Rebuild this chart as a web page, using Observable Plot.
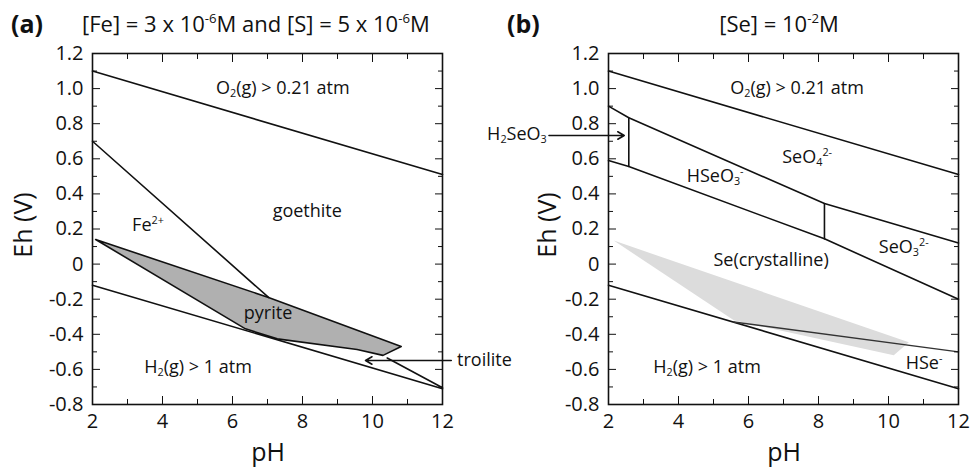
<!DOCTYPE html>
<html>
<head>
<meta charset="utf-8">
<script src="https://cdn.jsdelivr.net/npm/d3@7"></script>
<script src="https://cdn.jsdelivr.net/npm/@observablehq/plot@0.6"></script>
<style>
  html, body { margin: 0; padding: 0; background: #fff; }
  #wrap { position: relative; width: 971px; height: 468px; font-family: "Open Sans", sans-serif; color: #111; overflow: hidden; }
  .panel { position: absolute; top: 0; }
  .lbl { position: absolute; white-space: nowrap; font-size: 18px; line-height: 1.1; transform: translate(-50%, -50%); }
  .lbl.start { transform: translate(0, -50%); }
  .lbl.end { transform: translate(-100%, -50%); }
  sup { font-size: 0.6em; vertical-align: 0.65em; line-height: 0; }
  sub { font-size: 0.6em; vertical-align: -0.3em; line-height: 0; }
  .title { position: absolute; white-space: nowrap; line-height: 1.2; transform: translate(0, -50%); }
</style>
</head>
<body>
<div id="wrap"></div>
<script>
// ---------- data ----------
const pHRange = [2, 12];
const xMajorTicks = [2, 4, 6, 8, 10, 12];
const xMinorTicks = [3, 5, 7, 9, 11];
const yMajorTicks = [-0.8, -0.6, -0.4, -0.2, 0, 0.2, 0.4, 0.6, 0.8, 1.0, 1.2];
const yMinorTicks = [-0.7, -0.5, -0.3, -0.1, 0.1, 0.3, 0.5, 0.7, 0.9, 1.1];

// water stability limits (both panels)
const o2PH = [2, 12];
const o2Eh = [1.10, 0.51];
const h2PH = [2, 12];
const h2Eh = [-0.12, -0.71];

// panel (a): Fe-S system
const feGoethitePH = [2, 7.03];
const feGoethiteEh = [0.70, -0.19];
const pyritePH = [2.09, 7.03, 10.82, 10.30, 9.56, 7.28, 6.37];
const pyriteEh = [0.14, -0.19, -0.47, -0.52, -0.487, -0.426, -0.369];
const troilitePH = [10.42, 12];
const troiliteEh = [-0.535, -0.705];

// panel (b): Se system
const seUpperPH = [2, 2.58, 8.17, 12];
const seUpperEh = [0.90, 0.834, 0.345, 0.12];
const seLowerPH = [2, 2.58, 8.17, 12];
const seLowerEh = [0.59, 0.556, 0.144, -0.20];
const h2seo3BoundPH = [2.58, 2.58];
const h2seo3BoundEh = [0.556, 0.834];
const seo3BoundPH = [8.17, 8.17];
const seo3BoundEh = [0.144, 0.345];
const hsePH = [5.58, 12];
const hseEh = [-0.33, -0.50];
const pyriteOverlayPH = [2.15, 10.58, 10.15, 5.58];
const pyriteOverlayEh = [0.134, -0.445, -0.52, -0.32];

// annotations: [html, pH, Eh, anchor]
const labelsA = [
  ["O<sub>2</sub>(g) &gt; 0.21 atm", 7.45, 1.0, "middle"],
  ["goethite", 8.15, 0.30, "middle"],
  ["Fe<sup>2+</sup>", 3.6, 0.22, "middle"],
  ["pyrite", 7.03, -0.28, "middle"],
  ["H<sub>2</sub>(g) &gt; 1 atm", 5.03, -0.59, "middle"],
  ["troilite", 12.43, -0.55, "start"]
];
const labelsB = [
  ["O<sub>2</sub>(g) &gt; 0.21 atm", 7.4, 1.0, "middle"],
  ["SeO<sub>4</sub><sup>2-</sup>", 7.69, 0.61, "middle"],
  ["HSeO<sub>3</sub><sup>-</sup>", 5.06, 0.50, "middle"],
  ["H<sub>2</sub>SeO<sub>3</sub>", 0.25, 0.74, "end"],
  ["SeO<sub>3</sub><sup>2-</sup>", 10.45, 0.095, "middle"],
  ["Se(crystalline)", 6.66, 0.02, "middle"],
  ["H<sub>2</sub>(g) &gt; 1 atm", 4.83, -0.59, "middle"],
  ["HSe<sup>-</sup>", 11.03, -0.565, "middle"]
];
const arrowsA = [{x1: 12.25, y1: -0.549, x2: 9.8, y2: -0.549}];
const arrowsB = [{x1: 0.3, y1: 0.733, x2: 2.45, y2: 0.733}];

// ---------- helpers ----------
const pts = (xs, ys) => xs.map((x, i) => ({x, y: ys[i]}));
const fmtY = d => d === 0 ? "0" : d.toFixed(1);

function axes() {
  return [
    Plot.axisX({anchor: "bottom", ticks: xMajorTicks, tickSize: 0, tickPadding: 9, label: null, fontSize: 20}),
    Plot.axisX({anchor: "bottom", ticks: xMajorTicks, tickSize: -8, tickFormat: () => "", label: null}),
    Plot.axisX({anchor: "bottom", ticks: xMinorTicks, tickSize: -5, tickFormat: () => "", label: null}),
    Plot.axisX({anchor: "top", ticks: xMajorTicks, tickSize: -8, tickFormat: () => "", label: null}),
    Plot.axisX({anchor: "top", ticks: xMinorTicks, tickSize: -5, tickFormat: () => "", label: null}),
    Plot.axisY({anchor: "left", ticks: yMajorTicks, tickSize: 0, tickPadding: 9, tickFormat: fmtY, label: null, fontSize: 20}),
    Plot.axisY({anchor: "left", ticks: yMajorTicks, tickSize: -8, tickFormat: () => "", label: null}),
    Plot.axisY({anchor: "left", ticks: yMinorTicks, tickSize: -5, tickFormat: () => "", label: null}),
    Plot.axisY({anchor: "right", ticks: yMajorTicks, tickSize: -8, tickFormat: () => "", label: null}),
    Plot.axisY({anchor: "right", ticks: yMinorTicks, tickSize: -5, tickFormat: () => "", label: null})
  ];
}

function makePlot(opts, marks) {
  return Plot.plot({
    width: opts.width, height: 468,
    marginLeft: opts.ml, marginRight: opts.mr, marginTop: 53, marginBottom: 64,
    x: {domain: pHRange},
    y: {domain: [-0.8, 1.2]},
    style: {fontFamily: "Open Sans, sans-serif", fontSize: "20px", color: "#111", background: "transparent", overflow: "visible"},
    marks: [...marks, ...axes(), Plot.frame({stroke: "#111", strokeWidth: 1.6})]
  });
}

const lineStyle = {x: "x", y: "y", stroke: "#111", strokeWidth: 1.6};

const chartA = makePlot({width: 480, ml: 92, mr: 38}, [
  Plot.line(pts(pyritePH, pyriteEh), {...lineStyle, fill: "#b0b0b0", curve: "linear-closed"}),
  Plot.line(pts(o2PH, o2Eh), lineStyle),
  Plot.line(pts(h2PH, h2Eh), lineStyle),
  Plot.line(pts(feGoethitePH, feGoethiteEh), lineStyle),
  Plot.line(pts(troilitePH, troiliteEh), lineStyle),
  Plot.arrow(arrowsA, {x1: "x1", y1: "y1", x2: "x2", y2: "y2", stroke: "#111", strokeWidth: 1.6, headLength: 7})
]);

const chartB = makePlot({width: 491, ml: 128, mr: 13}, [
  Plot.line(pts(pyriteOverlayPH, pyriteOverlayEh), {x: "x", y: "y", fill: "#dcdcdc", stroke: "none", curve: "linear-closed"}),
  Plot.line(pts(o2PH, o2Eh), lineStyle),
  Plot.line(pts(h2PH, h2Eh), lineStyle),
  Plot.line(pts(seUpperPH, seUpperEh), lineStyle),
  Plot.line(pts(seLowerPH, seLowerEh), lineStyle),
  Plot.line(pts(h2seo3BoundPH, h2seo3BoundEh), lineStyle),
  Plot.line(pts(seo3BoundPH, seo3BoundEh), lineStyle),
  Plot.line(pts(hsePH, hseEh), {...lineStyle, stroke: "#333", strokeWidth: 1.4}),
  Plot.arrow(arrowsB, {x1: "x1", y1: "y1", x2: "x2", y2: "y2", stroke: "#111", strokeWidth: 1.6, headLength: 7})
]);

const wrap = document.getElementById("wrap");
function place(chart, left) {
  const div = document.createElement("div");
  div.className = "panel";
  div.style.left = left + "px";
  div.appendChild(chart);
  wrap.appendChild(div);
}
place(chartA, 0);
place(chartB, 480);

function addLabels(chart, left, labels) {
  const sx = chart.scale("x"), sy = chart.scale("y");
  for (const [html, x, y, anchor] of labels) {
    const el = document.createElement("div");
    el.className = "lbl" + (anchor === "start" ? " start" : anchor === "end" ? " end" : "");
    el.innerHTML = html;
    el.style.left = (left + sx.apply(x)) + "px";
    el.style.top = sy.apply(y) + "px";
    wrap.appendChild(el);
  }
}
addLabels(chartA, 0, labelsA);
addLabels(chartB, 480, labelsB);

function addText(html, left, top, css) {
  const el = document.createElement("div");
  el.className = "title";
  el.innerHTML = html;
  el.style.left = left + "px";
  el.style.top = top + "px";
  Object.assign(el.style, css || {});
  wrap.appendChild(el);
  return el;
}
addText("(a)", 11, 23, {fontSize: "25px", fontWeight: "bold"});
addText("[Fe] = 3 x 10<sup>-6</sup>M and [S] = 5 x 10<sup>-6</sup>M", 82, 23, {fontSize: "22px"});
addText("(b)", 507, 23, {fontSize: "25px", fontWeight: "bold"});
addText("[Se] = 10<sup>-2</sup>M", 779, 23, {fontSize: "22px", transform: "translate(-50%,-50%)"});
addText("pH", 268, 451, {fontSize: "25px", transform: "translate(-50%,-50%)"});
addText("pH", 784, 451, {fontSize: "25px", transform: "translate(-50%,-50%)"});
addText("Eh (V)", 22, 225, {fontSize: "25px", transform: "translate(-50%,-50%) rotate(-90deg)"});
addText("Eh (V)", 546, 225, {fontSize: "25px", transform: "translate(-50%,-50%) rotate(-90deg)"});
</script>
</body>
</html>
